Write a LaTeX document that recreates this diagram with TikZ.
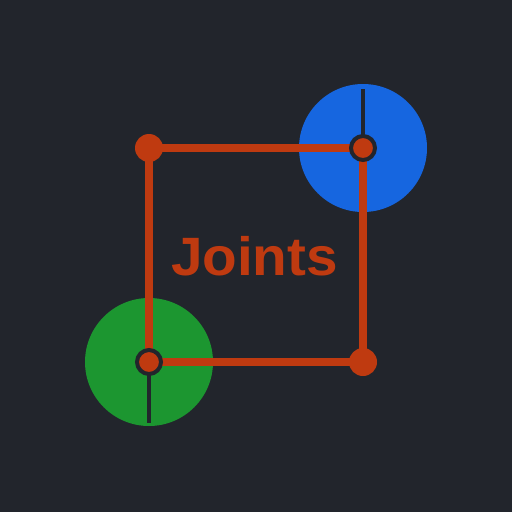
\documentclass[tikz,border=0pt]{standalone}
\usepackage{fontspec}
\setmainfont{Liberation Sans}
\begin{document}
\begin{tikzpicture}[x=1pt,y=-1pt,
  disc/.style={circle,inner sep=0pt,minimum size=128pt},
  cornerdot/.style={circle,fill=orng,inner sep=0pt,minimum size=28pt},
  joint/.style={circle,fill=orng,draw=bgcol,line width=4pt,inner sep=0pt,minimum size=24pt},
  edge/.style={draw=orng,line width=7.7pt},
  axle/.style={draw=bgcol,line width=4pt}]
\definecolor{bgcol}{HTML}{22252C}
\definecolor{orng}{HTML}{BF3A10}
\definecolor{blu}{HTML}{1666E0}
\definecolor{grn}{HTML}{1C9630}
\fill[bgcol] (0,0) rectangle (512,512);
\useasboundingbox (0,0) rectangle (512,512);
\node[disc,fill=blu] (bc) at (363,148) {};
\node[disc,fill=grn] (gc) at (149,362) {};
\coordinate (tl) at (149,148);
\coordinate (tr) at (363,148);
\coordinate (bl) at (149,362);
\coordinate (br) at (363,362);
\coordinate (btop) at (363,89);
\coordinate (gbot) at (149,423);
\draw[axle] (btop) -- (tr);
\draw[axle] (bl) -- (gbot);
\draw[edge] (tl) -- (tr) -- (br) -- (bl) -- cycle;
\node[cornerdot] (ctl) at (tl) {};
\node[cornerdot] (cbr) at (br) {};
\node[joint] (jtr) at (tr) {};
\node[joint] (jbl) at (bl) {};
\node[text=orng,font=\bfseries\fontsize{54}{60}\selectfont,anchor=base,inner sep=0pt] (lbl) at (254.5,275) {\scalebox{1.05}[1]{Joints}};
\end{tikzpicture}
\end{document}
